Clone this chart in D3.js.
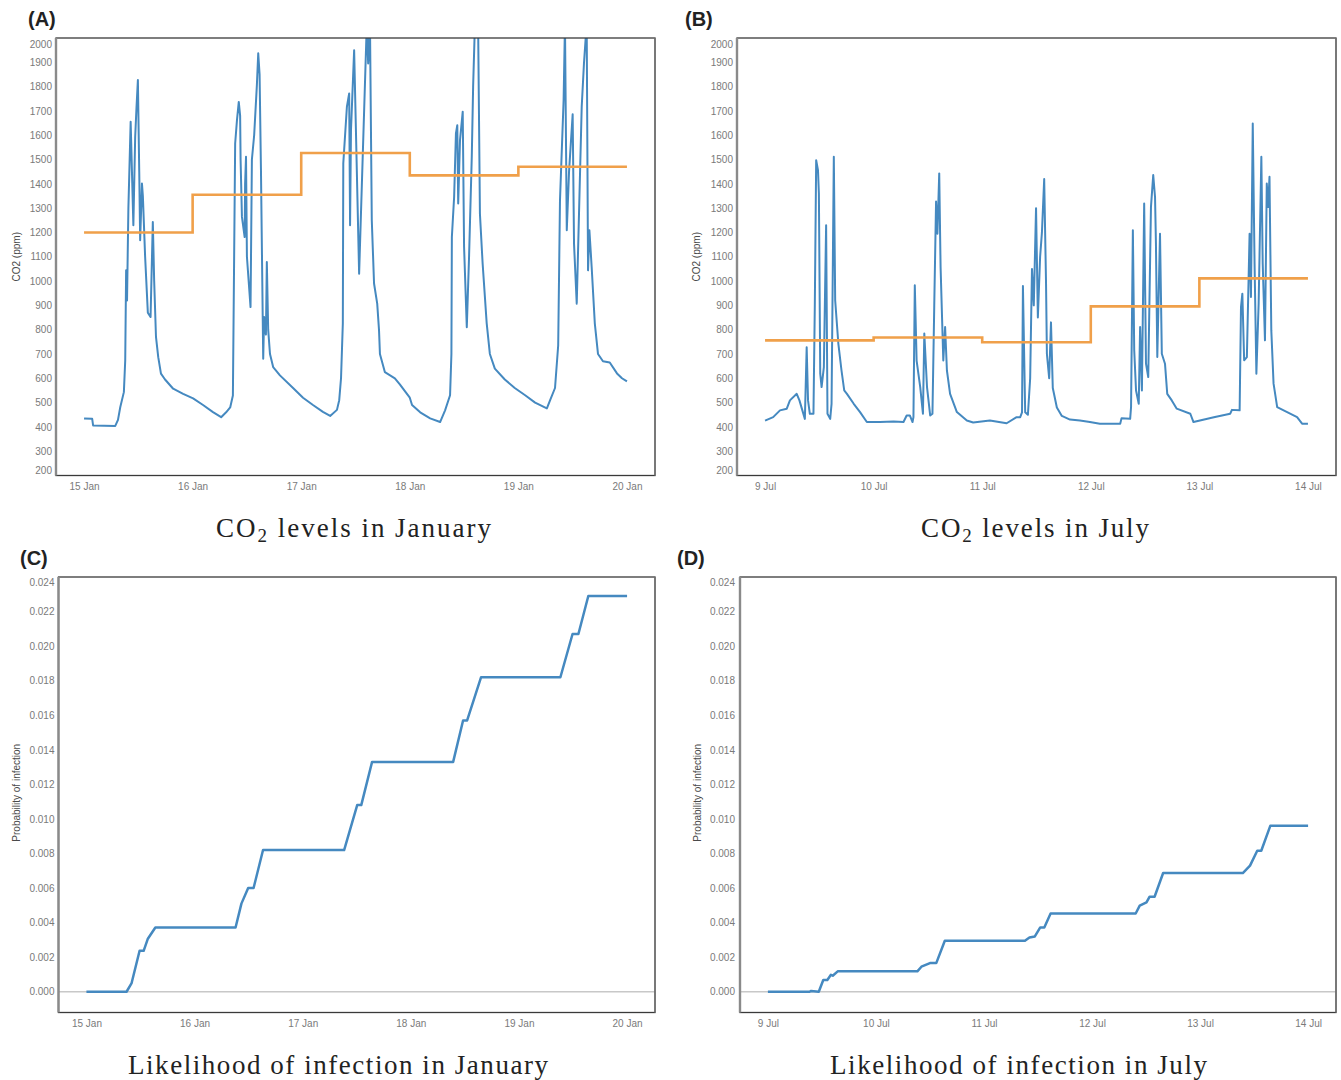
<!DOCTYPE html>
<html><head><meta charset="utf-8">
<script src="https://cdn.jsdelivr.net/npm/d3@7"></script>
<style>body{margin:0;background:#fff}</style>
</head><body>
<svg id="chart" width="1341" height="1080" xmlns="http://www.w3.org/2000/svg"></svg>
<script>
// ---------- DATA ----------
const janStartDate = new Date(2021, 0, 15);
const julStartDate = new Date(2021, 6, 9);

const co2Ticks = [200,300,400,500,600,700,800,900,1000,1100,1200,1300,1400,1500,1600,1700,1800,1900,2000];
const probTicks = [0,0.002,0.004,0.006,0.008,0.010,0.012,0.014,0.016,0.018,0.020,0.022,0.024];

// daily mean CO2 (orange steps), one value per day
const janDailyMean = [1200, 1355, 1527, 1435, 1470];
const julDailyMean = [756, 768, 748, 896, 1011];

// [hours since first midnight, CO2 ppm]
const janCO2 = [[0,435],[1.8,433],[2.0,406],[6.9,404],[7.5,429],[8.0,481],[8.8,543],[9.1,673],[9.3,1044],[9.5,920],[9.8,1300],[10.3,1655],[10.9,1230],[11.3,1593],[11.6,1717],[11.9,1827],[12.2,1450],[12.4,1168],[12.8,1401],[13.0,1350],[13.5,1100],[14.1,870],[14.7,852],[15.2,1243],[15.5,1000],[15.9,770],[16.4,687],[17.0,619],[17.9,595],[19.7,557],[21.9,536],[24.1,517],[26.3,490],[28.5,461],[30.3,440],[31.4,460],[32.3,480],[32.9,529],[33.4,1566],[33.8,1662],[34.2,1737],[34.5,1680],[34.6,1500],[34.9,1264],[35.5,1181],[35.6,1400],[35.8,1511],[36.0,1100],[36.8,893],[37.1,1500],[37.6,1600],[38.2,1806],[38.5,1937],[38.8,1850],[39.1,1463],[39.6,680],[39.8,852],[40.2,780],[40.4,1078],[40.7,800],[41.1,700],[41.8,646],[43.3,612],[46.2,560],[48.4,520],[50.6,490],[52.8,462],[54.4,445],[55.9,470],[56.4,510],[56.8,600],[57.2,826],[57.3,1484],[58.1,1717],[58.6,1772],[58.8,1230],[59.0,1621],[59.7,1950],[60.8,1030],[62.5,2060],[62.8,1895],[63.2,2060],[63.6,1250],[64.1,990],[64.8,907],[65.2,797],[65.4,700],[66.5,625],[68.7,600],[69.8,575],[71.0,545],[72.0,520],[72.5,490],[74.3,460],[76.5,435],[78.7,420],[79.8,468],[80.9,530],[81.2,700],[81.3,1181],[81.8,1346],[82.2,1607],[82.5,1641],[82.7,1319],[83.1,1580],[83.7,1697],[84.0,1140],[84.6,810],[85.1,1100],[85.7,1511],[86.0,1800],[86.4,2060],[87.1,2060],[87.5,1278],[88.1,1072],[89.0,826],[89.7,700],[90.8,640],[93.0,595],[95.2,560],[97.5,530],[99.7,500],[102.3,476],[103.0,509],[104.1,560],[104.8,735],[105.2,1333],[106.0,1745],[106.3,2060],[106.7,1209],[107.2,1450],[108.0,1686],[108.3,1154],[108.9,907],[110.0,1717],[110.5,1896],[111.1,2060],[111.4,1044],[111.7,1209],[112.2,1058],[112.9,825],[113.6,700],[114.7,670],[116.2,665],[117.8,620],[118.9,600],[120,587]];

const julCO2 = [[0,426],[1.8,440],[3.3,468],[4.8,475],[5.5,509],[7.0,536],[7.6,509],[8.8,433],[9.2,728],[9.5,509],[9.9,454],[10.7,454],[11.0,900],[11.3,1497],[11.7,1456],[11.9,1360],[12.2,619],[12.5,564],[13.0,646],[13.5,1230],[13.8,454],[14.4,433],[14.7,495],[15.2,1511],[15.5,921],[16.2,743],[16.9,632],[17.5,550],[18.1,536],[19.6,495],[21.0,461],[22.5,420],[25.4,420],[28.4,422],[30.6,420],[31.3,447],[32.0,447],[32.6,420],[32.8,440],[33.1,983],[33.5,673],[34.3,564],[34.9,454],[35.2,784],[35.8,564],[36.5,447],[37.0,454],[37.4,900],[37.8,1327],[38.1,1195],[38.5,1443],[38.8,1058],[39.4,673],[39.8,811],[40.2,632],[40.9,536],[42.4,461],[44.6,426],[46.0,418],[49.7,426],[53.4,415],[55.6,440],[56.4,440],[56.8,460],[57.0,980],[57.5,460],[58.1,450],[58.6,600],[59.0,1050],[59.4,900],[59.9,1300],[60.3,850],[60.8,1100],[61.2,1200],[61.7,1420],[62.1,1000],[62.3,700],[62.8,600],[63.2,830],[63.6,560],[64.5,480],[65.6,445],[67.4,430],[69.6,426],[71.8,420],[74.0,413],[78.5,413],[78.8,436],[80.7,433],[80.9,481],[81.3,1209],[81.6,715],[82.0,550],[82.6,495],[82.9,811],[83.3,550],[83.8,1319],[84.2,660],[84.7,605],[85.3,1305],[85.8,1436],[86.2,1346],[86.4,1154],[86.7,688],[87.3,1195],[87.7,701],[88.4,660],[88.9,536],[89.9,509],[91.0,475],[94.0,454],[94.7,420],[99.2,440],[102.8,454],[103.2,470],[104.9,468],[105.2,893],[105.5,948],[105.9,674],[106.5,687],[107.1,1195],[107.4,934],[107.8,1648],[108.2,1072],[108.6,619],[109.1,907],[109.7,1511],[110.0,1072],[110.5,756],[110.9,1401],[111.2,1305],[111.5,1429],[111.9,797],[112.4,578],[113.2,481],[115.4,461],[117.6,440],[118.7,413],[120,413]];

// [hours since first midnight, cumulative probability of infection]
const janProb = [[0,0],[8.9,0],[10.0,0.00048],[11.8,0.00237],[12.7,0.00237],[13.6,0.00305],[15.3,0.00372],[33.1,0.00372],[34.4,0.0051],[35.9,0.0060],[37.1,0.0060],[39.2,0.0082],[57.2,0.0082],[60.1,0.0108],[61.0,0.0108],[63.4,0.0133],[81.4,0.0133],[83.6,0.0157],[84.5,0.0157],[87.6,0.0182],[105.2,0.0182],[107.9,0.0207],[109.2,0.0207],[111.4,0.0229],[120,0.0229]];

const julProb = [[0,0],[9.2,0],[9.6,0.00005],[11.3,0],[12.3,0.00068],[13.2,0.00068],[14.0,0.00098],[14.4,0.00093],[15.5,0.00118],[33.2,0.00118],[34.1,0.00145],[36.0,0.00166],[37.4,0.00166],[39.3,0.00295],[57.1,0.00295],[58.1,0.00314],[59.3,0.0032],[60.5,0.00372],[61.4,0.00372],[62.8,0.00453],[81.7,0.00453],[82.6,0.00498],[84.1,0.00517],[84.8,0.0055],[85.9,0.0055],[87.8,0.00687],[105.5,0.00687],[107.1,0.0073],[108.7,0.00816],[109.6,0.00816],[111.6,0.0096],[120,0.0096]];

// ---------- DRAWING ----------
const svg = d3.select('#chart');
const HOUR = 3600 * 1000;
const toDate = (start, h) => new Date(start.getTime() + h * HOUR);
const BLUE = '#4589c0', ORANGE = '#f0a04a';
const dayFmt = d3.timeFormat('%-d %b');
let clipN = 0;

function panel(o) {
  const x = d3.scaleTime()
    .domain([toDate(o.start, -6.2), toDate(o.start, 126.2)])
    .range([o.x0, o.x1]);
  const y = d3.scaleLinear().domain(o.domainY).range([o.y1, o.y0]);
  const g = svg.append('g');
  const cid = 'clip' + (clipN++);
  g.append('clipPath').attr('id', cid).append('rect')
    .attr('x', o.x0).attr('y', o.y0).attr('width', o.x1 - o.x0).attr('height', o.y1 - o.y0);

  // y axis
  const ya = g.append('g').attr('transform', `translate(${o.x0},0)`)
    .call(d3.axisLeft(y).tickValues(o.ticksY).tickFormat(o.fmtY).tickSize(0).tickPadding(o.yPad));
  ya.select('.domain').remove();
  ya.selectAll('text').attr('font-family', 'Liberation Sans, Arial, sans-serif')
    .attr('font-size', 10).attr('fill', '#7a7a7a');
  ya.selectAll('.tick').filter(d => d === o.ticksY[o.ticksY.length - 1]).select('text').attr('y', o.flushTop);
  if (o.flushBottom) ya.selectAll('.tick').filter(d => d === o.ticksY[0]).select('text').attr('y', o.flushBottom);

  // x axis
  const xa = g.append('g').attr('transform', `translate(0,${o.y1})`)
    .call(d3.axisBottom(x).ticks(d3.timeDay.every(1)).tickFormat(dayFmt).tickSize(0).tickPadding(7.5));
  xa.select('.domain').remove();
  xa.selectAll('text').attr('font-family', 'Liberation Sans, Arial, sans-serif')
    .attr('font-size', 10).attr('fill', '#7a7a7a');

  // zero rule
  if (o.zero) {
    g.append('line').attr('x1', o.x0).attr('x2', o.x1).attr('y1', y(0)).attr('y2', y(0))
      .attr('stroke', '#c8c8c8').attr('stroke-width', 1.5);
  }

  const line = d3.line().x(d => x(toDate(o.start, d[0]))).y(d => y(d[1]));
  g.append('path').datum(o.series).attr('clip-path', `url(#${cid})`)
    .attr('d', line).attr('fill', 'none').attr('stroke', BLUE)
    .attr('stroke-width', o.lw).attr('stroke-linejoin', 'round');

  if (o.daily) {
    const steps = o.daily.map((v, i) => [i * 24, v]);
    steps.push([o.daily.length * 24, o.daily[o.daily.length - 1]]);
    g.append('path').datum(steps)
      .attr('d', d3.line().curve(d3.curveStepAfter).x(d => x(toDate(o.start, d[0]))).y(d => y(d[1])))
      .attr('fill', 'none').attr('stroke', ORANGE).attr('stroke-width', 2.6);
  }

  // frame
  g.append('rect').attr('x', o.x0).attr('y', o.y0).attr('width', o.x1 - o.x0).attr('height', o.y1 - o.y0)
    .attr('fill', 'none').attr('stroke', '#3a3a3a').attr('stroke-width', 1.3);
  g.append('line').attr('x1', o.x0).attr('x2', o.x0).attr('y1', o.y0).attr('y2', o.y1)
    .attr('stroke', '#8a8a8a').attr('stroke-width', 2.4);
  g.append('line').attr('x1', o.x1).attr('x2', o.x1).attr('y1', o.y0).attr('y2', o.y1)
    .attr('stroke', '#777').attr('stroke-width', 1.6);

  // y title
  g.append('text').attr('transform', `translate(${o.yTitleX},${(o.y0 + o.y1) / 2 + o.yTitleDy}) rotate(-90)`)
    .attr('text-anchor', 'middle').attr('dy', '0.35em')
    .attr('font-family', 'Liberation Sans, Arial, sans-serif').attr('font-size', 10).attr('fill', '#4a4a4a')
    .text(o.yTitle);

  // panel label
  svg.append('text').attr('x', o.lx).attr('y', o.ly)
    .attr('font-family', 'Liberation Sans, Arial, sans-serif').attr('font-weight', 'bold')
    .attr('font-size', 20).attr('fill', '#222').text(o.label);

  // title
  const t = svg.append('text').attr('x', o.tx).attr('y', o.ty).attr('text-anchor', 'middle')
    .attr('font-family', 'Liberation Serif, Times New Roman, serif').attr('font-size', 27).attr('fill', '#222')
    .attr('textLength', o.tw).attr('lengthAdjust', 'spacing');
  o.title.forEach(p => {
    const s = t.append('tspan').text(p.t);
    if (p.sub) s.attr('font-size', 19).attr('dy', 5);
    else if (p.after) s.attr('dy', -5);
  });
}

const co2Fmt = d3.format('d');
const probFmt = d3.format('.3f');

panel({x0:56, x1:655, y0:38, y1:475.5, start:janStartDate, domainY:[200,2000], ticksY:co2Ticks, fmtY:co2Fmt,
  yPad:4, flushTop:6, flushBottom:-5, series:janCO2, daily:janDailyMean, lw:2, zero:false,
  yTitle:'CO2 (ppm)', yTitleX:16, yTitleDy:0, label:'(A)', lx:28, ly:26,
  title:[{t:'CO'},{t:'2', sub:true},{t:' levels in January', after:true}], tx:353.5, ty:537, tw:275});

panel({x0:737, x1:1336, y0:38, y1:475.5, start:julStartDate, domainY:[200,2000], ticksY:co2Ticks, fmtY:co2Fmt,
  yPad:4, flushTop:6, flushBottom:-5, series:julCO2, daily:julDailyMean, lw:2, zero:false,
  yTitle:'CO2 (ppm)', yTitleX:696, yTitleDy:0, label:'(B)', lx:685, ly:26,
  title:[{t:'CO'},{t:'2', sub:true},{t:' levels in July', after:true}], tx:1035, ty:537, tw:228});

panel({x0:58.5, x1:655, y0:577, y1:1012.5, start:janStartDate, domainY:[-0.0012,0.024], ticksY:probTicks, fmtY:probFmt,
  yPad:4, flushTop:5, flushBottom:0, series:janProb, daily:null, lw:2.5, zero:true,
  yTitle:'Probability of infection', yTitleX:16, yTitleDy:-2, label:'(C)', lx:20, ly:565,
  title:[{t:'Likelihood of infection in January'}], tx:338, ty:1074, tw:420});

panel({x0:740, x1:1336, y0:577, y1:1012.5, start:julStartDate, domainY:[-0.0012,0.024], ticksY:probTicks, fmtY:probFmt,
  yPad:5, flushTop:5, flushBottom:0, series:julProb, daily:null, lw:2.5, zero:true,
  yTitle:'Probability of infection', yTitleX:697, yTitleDy:-2, label:'(D)', lx:677, ly:565,
  title:[{t:'Likelihood of infection in July'}], tx:1018.5, ty:1074, tw:377});
</script>
</body></html>
